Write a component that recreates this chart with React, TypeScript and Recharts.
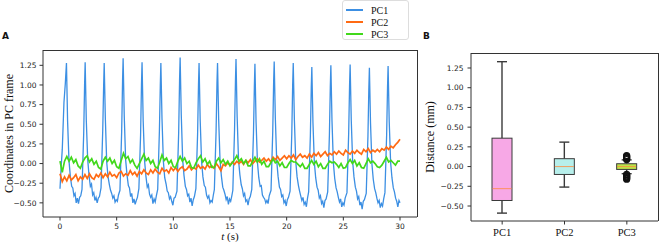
import React from "react"
import {
    LineChart,
    Line,
    BarChart,
    Bar,
    XAxis,
    YAxis,
} from "recharts"

// ---- panel A: time series of the three principal components ----

const SERIES_NAMES = ["PC1", "PC2", "PC3"]
const SERIES_COLORS = ["#3c8fe3", "#ff6a13", "#41d81b"]

// PC1 as [time (s), value] pairs, one cycle per line
const PC1_POINTS: [number, number][] = [
    [0, -0.32], [0.1, -0.05], [0.2, 0.18], [0.35, 0.78], [0.47, 1.02], [0.57, 1.28], [0.67, 0.54], [0.79, 0.04], [0.91, -0.16], [1.03, -0.29], [1.13, -0.31], [1.23, -0.41], [1.33, -0.38], [1.43, -0.5], [1.53, -0.44], [1.63, -0.51], [1.73, -0.43], [1.83, -0.41],
    [1.94, -0.33], [2.09, 0.38], [2.17, 1.0], [2.22, 1.29], [2.32, 0.55], [2.44, 0.06], [2.56, -0.15], [2.68, -0.29], [2.78, -0.26], [2.88, -0.4], [2.98, -0.37], [3.08, -0.47], [3.18, -0.43], [3.28, -0.5], [3.38, -0.44], [3.48, -0.42],
    [3.62, -0.31], [3.77, 0.42], [3.85, 0.98], [3.9, 1.28], [4.0, 0.58], [4.12, 0.02], [4.24, -0.17], [4.36, -0.27], [4.46, -0.34], [4.56, -0.38], [4.66, -0.44], [4.76, -0.41], [4.86, -0.49], [4.96, -0.46], [5.06, -0.48], [5.16, -0.4],
    [5.29, -0.34], [5.44, 0.4], [5.52, 1.05], [5.57, 1.34], [5.67, 0.6], [5.79, 0.05], [5.91, -0.14], [6.03, -0.28], [6.13, -0.31], [6.23, -0.42], [6.33, -0.38], [6.43, -0.5], [6.53, -0.45], [6.63, -0.52], [6.73, -0.47], [6.83, -0.43],
    [6.96, -0.32], [7.11, 0.36], [7.19, 1.01], [7.24, 1.29], [7.34, 0.54], [7.46, 0.04], [7.58, -0.16], [7.7, -0.3], [7.8, -0.27], [7.9, -0.39], [8.0, -0.43], [8.1, -0.4], [8.2, -0.51], [8.3, -0.45], [8.4, -0.49], [8.5, -0.41],
    [8.62, -0.33], [8.77, 0.41], [8.85, 0.99], [8.9, 1.28], [9.0, 0.57], [9.12, 0.03], [9.24, -0.18], [9.36, -0.26], [9.46, -0.35], [9.56, -0.37], [9.66, -0.45], [9.76, -0.42], [9.86, -0.48], [9.96, -0.53], [10.06, -0.44], [10.16, -0.43],
    [10.32, -0.35], [10.47, 0.39], [10.55, 1.06], [10.6, 1.35], [10.7, 0.62], [10.82, 0.06], [10.94, -0.15], [11.06, -0.29], [11.16, -0.33], [11.26, -0.41], [11.36, -0.39], [11.46, -0.49], [11.56, -0.44], [11.66, -0.54], [11.76, -0.46], [11.86, -0.42],
    [11.99, -0.32], [12.14, 0.37], [12.22, 1.0], [12.27, 1.28], [12.37, 0.55], [12.49, 0.03], [12.61, -0.17], [12.73, -0.28], [12.83, -0.3], [12.93, -0.4], [13.03, -0.44], [13.13, -0.41], [13.23, -0.5], [13.33, -0.47], [13.43, -0.49], [13.53, -0.4],
    [13.62, -0.33], [13.77, 0.4], [13.85, 1.02], [13.9, 1.28], [14.0, 0.56], [14.12, 0.04], [14.24, -0.16], [14.36, -0.3], [14.46, -0.34], [14.56, -0.39], [14.66, -0.46], [14.76, -0.42], [14.86, -0.52], [14.96, -0.45], [15.06, -0.48], [15.16, -0.41],
    [15.25, -0.34], [15.4, 0.42], [15.48, 1.04], [15.53, 1.33], [15.63, 0.6], [15.75, 0.05], [15.87, -0.14], [15.99, -0.27], [16.09, -0.32], [16.19, -0.41], [16.29, -0.38], [16.39, -0.48], [16.49, -0.46], [16.59, -0.53], [16.69, -0.45], [16.79, -0.42],
    [16.92, -0.33], [17.07, 0.38], [17.15, 0.98], [17.2, 1.27], [17.3, 0.53], [17.42, 0.02], [17.54, -0.18], [17.66, -0.29], [17.76, -0.28], [17.86, -0.4], [17.96, -0.43], [18.06, -0.45], [18.16, -0.5], [18.26, -0.47], [18.36, -0.51], [18.46, -0.41],
    [18.62, -0.34], [18.77, 0.4], [18.85, 1.03], [18.9, 1.3], [19.0, 0.58], [19.12, 0.04], [19.24, -0.16], [19.36, -0.3], [19.46, -0.33], [19.56, -0.42], [19.66, -0.4], [19.76, -0.5], [19.86, -0.47], [19.96, -0.54], [20.06, -0.46], [20.16, -0.43],
    [20.3, -0.35], [20.45, 0.37], [20.53, 1.0], [20.58, 1.28], [20.68, 0.56], [20.8, 0.03], [20.92, -0.17], [21.04, -0.28], [21.14, -0.35], [21.24, -0.41], [21.34, -0.47], [21.44, -0.43], [21.54, -0.52], [21.64, -0.49], [21.74, -0.55], [21.84, -0.44],
    [21.94, -0.36], [22.09, 0.35], [22.17, 0.96], [22.22, 1.23], [22.32, 0.52], [22.44, 0.02], [22.56, -0.18], [22.68, -0.3], [22.78, -0.34], [22.88, -0.44], [22.98, -0.41], [23.08, -0.51], [23.18, -0.48], [23.28, -0.56], [23.38, -0.47], [23.48, -0.45],
    [23.62, -0.36], [23.77, 0.36], [23.85, 0.97], [23.9, 1.25], [24.0, 0.54], [24.12, 0.01], [24.24, -0.19], [24.36, -0.31], [24.46, -0.36], [24.56, -0.43], [24.66, -0.49], [24.76, -0.45], [24.86, -0.55], [24.96, -0.5], [25.06, -0.53], [25.16, -0.44],
    [25.32, -0.37], [25.47, 0.38], [25.55, 0.99], [25.6, 1.26], [25.7, 0.55], [25.82, 0.03], [25.94, -0.17], [26.06, -0.3], [26.16, -0.35], [26.26, -0.45], [26.36, -0.42], [26.46, -0.53], [26.56, -0.49], [26.66, -0.58], [26.76, -0.48], [26.86, -0.46],
    [27.02, -0.38], [27.17, 0.34], [27.25, 0.95], [27.3, 1.22], [27.4, 0.51], [27.52, 0.0], [27.64, -0.2], [27.76, -0.32], [27.86, -0.37], [27.96, -0.44], [28.06, -0.5], [28.16, -0.47], [28.26, -0.56], [28.36, -0.51], [28.46, -0.54], [28.56, -0.45],
    [28.67, -0.37], [28.82, 0.36], [28.9, 0.97], [28.95, 1.24], [29.05, 0.53], [29.17, 0.02], [29.29, -0.18], [29.41, -0.31], [29.51, -0.36], [29.61, -0.44], [29.71, -0.48], [29.81, -0.55], [29.91, -0.47], [30.0, -0.5],
]

// PC2 and PC3 sampled every 0.2 s from 0 to 30 s (ten samples per row)
const SAMPLE_STEP = 0.2
const PC2_VALUES = [
    -0.13, -0.23, -0.17, -0.22, -0.15, -0.21, -0.18, -0.14, -0.22, -0.17,
    -0.2, -0.14, -0.19, -0.13, -0.18, -0.2, -0.14, -0.17, -0.12, -0.18,
    -0.13, -0.17, -0.11, -0.16, -0.14, -0.18, -0.12, -0.1, -0.16, -0.13,
    -0.15, -0.09, -0.14, -0.11, -0.16, -0.1, -0.13, -0.08, -0.12, -0.14,
    -0.08, -0.12, -0.07, -0.11, -0.13, -0.06, -0.1, -0.08, -0.12, -0.05,
    -0.09, -0.05, -0.1, -0.06, -0.04, -0.09, -0.07, -0.03, -0.08, -0.05,
    -0.07, -0.02, -0.06, -0.04, -0.07, -0.01, -0.05, -0.03, -0.06, 0.0,
    -0.04, -0.09, -0.01, -0.03, 0.01, -0.02, 0.02, -0.01, 0.03, 0.0,
    0.03, -0.01, 0.04, 0.01, 0.05, 0.0, 0.03, 0.06, 0.02, 0.04,
    0.07, 0.03, 0.06, 0.02, 0.08, 0.05, 0.09, 0.04, 0.07, 0.1,
    0.06, 0.1, 0.07, 0.11, 0.05, 0.09, 0.12, 0.08, 0.1, 0.07,
    0.12, 0.08, 0.13, 0.1, 0.14, 0.09, 0.12, 0.15, 0.1, 0.13,
    0.11, 0.15, 0.12, 0.16, 0.13, 0.11, 0.17, 0.14, 0.12, 0.16,
    0.13, 0.17, 0.14, 0.12, 0.18, 0.15, 0.19, 0.14, 0.17, 0.15,
    0.18, 0.15, 0.19, 0.17, 0.21, 0.18, 0.22, 0.2, 0.24, 0.27,
    0.31,
]
const PC3_VALUES = [
    0.03, -0.11, 0.03, 0.09, 0.03, 0.08, 0.01, 0.05, -0.03, -0.06,
    0.02, 0.07, 0.1, 0.02, 0.06, -0.01, 0.03, -0.05, -0.07, 0.03,
    0.08, 0.03, 0.07, 0.0, 0.04, -0.04, -0.06, 0.04, 0.13, 0.06,
    0.09, 0.01, 0.05, -0.02, -0.06, 0.0, 0.06, 0.12, 0.04, 0.07,
    0.0, 0.04, -0.04, -0.06, 0.02, 0.11, 0.04, 0.07, 0.0, 0.04,
    -0.04, -0.05, 0.03, 0.09, 0.03, 0.07, 0.0, 0.03, -0.05, -0.06,
    0.01, 0.06, 0.1, 0.02, 0.06, -0.01, 0.03, -0.05, -0.05, 0.03,
    0.07, 0.01, 0.05, -0.01, 0.03, -0.03, 0.01, 0.05, 0.1, 0.03,
    0.06, 0.0, 0.04, -0.03, -0.03, 0.03, 0.08, 0.02, 0.06, -0.01,
    0.03, -0.04, -0.04, 0.01, 0.06, 0.01, 0.03, -0.03, 0.01, -0.05,
    -0.05, 0.0, 0.04, 0.02, 0.02, -0.01, -0.04, 0.0, -0.06, -0.06,
    -0.01, 0.04, -0.01, 0.03, -0.04, 0.0, -0.06, -0.06, -0.01, 0.03,
    0.01, 0.02, -0.01, -0.05, 0.0, -0.06, -0.05, 0.01, 0.05, 0.0,
    0.04, -0.03, 0.01, -0.05, -0.06, 0.0, 0.06, 0.01, 0.03, 0.0,
    -0.04, -0.05, -0.02, 0.03, 0.08, 0.02, 0.04, 0.01, -0.02, 0.03,
    0.03,
]

const TIME_TICKS = [0, 5, 10, 15, 20, 25, 30]
const VALUE_TICKS = [-0.5, -0.25, 0, 0.25, 0.5, 0.75, 1, 1.25]
const TIME_DOMAIN = [-1.5, 31.5]
const VALUE_DOMAIN_A = [-0.68, 1.445]

// ---- panel B: box plot of the distances ----

const BOX_CATEGORIES = ["PC1", "PC2", "PC3"]
const WHISKER_LOW = [-0.59, -0.26, -0.09]
const Q1 = [-0.43, -0.1, -0.036]
const MEDIAN = [-0.28, 0.0, 0.0]
const Q3 = [0.36, 0.1, 0.036]
const WHISKER_HIGH = [1.33, 0.31, 0.085]
const FLIERS = [[], [], [0.09, 0.1, 0.11, 0.12, 0.13, 0.14, -0.1, -0.11, -0.12, -0.13, -0.14, -0.15, -0.16]]
const BOX_FILLS = ["#f7a8e6", "#b7efeb", "#bde34a"]
const VALUE_DOMAIN_B = [-0.69, 1.44]

const pc1Rows = PC1_POINTS.map(([t, v]) => ({ t, v }))
const pc2Rows = PC2_VALUES.map((v, i) => ({ t: +(i * SAMPLE_STEP).toFixed(2), v }))
const pc3Rows = PC3_VALUES.map((v, i) => ({ t: +(i * SAMPLE_STEP).toFixed(2), v }))
const seriesRows = [pc1Rows, pc2Rows, pc3Rows]

const boxRows = BOX_CATEGORIES.map((name, i) => ({
    name,
    lo: WHISKER_LOW[i],
    q1: Q1[i],
    med: MEDIAN[i],
    q3: Q3[i],
    hi: WHISKER_HIGH[i],
    fliers: FLIERS[i],
    fill: BOX_FILLS[i],
}))

const AXIS_COLOR = "#333"
const SANS = "DejaVu Sans"
const SERIF = "Liberation Serif"
const tickStyle = { fontSize: 7.5, fill: "#222", fontFamily: SANS }
const fmtValue = (v: number) => v.toFixed(2).replace("-", "\u2212")

function BoxShape(props: any) {
    const { x, y, width, height, payload } = props
    const top = Math.min(y, y + height)
    const h = Math.abs(height)
    const { lo, hi, q1, q3, med, fliers, fill } = payload
    const toY = (v: number) => top + ((hi - v) / (hi - lo)) * h
    const cx = x + width / 2
    const cap = width / 2
    return (
        <g>
            <line x1={cx} x2={cx} y1={toY(hi)} y2={toY(q3)} stroke="#3a3a3a" strokeWidth={1.4} />
            <line x1={cx} x2={cx} y1={toY(q1)} y2={toY(lo)} stroke="#3a3a3a" strokeWidth={1.4} />
            <line x1={cx - cap / 2} x2={cx + cap / 2} y1={toY(hi)} y2={toY(hi)} stroke="#3a3a3a" strokeWidth={1.4} />
            <line x1={cx - cap / 2} x2={cx + cap / 2} y1={toY(lo)} y2={toY(lo)} stroke="#3a3a3a" strokeWidth={1.4} />
            {fliers.map((f: number, i: number) => (
                <circle key={i} cx={cx} cy={toY(f)} r={3} fill="none" stroke="#111" strokeWidth={1.2} />
            ))}
            <rect x={x} y={toY(q3)} width={width} height={toY(q1) - toY(q3)} fill={fill} stroke="#3a3a3a" strokeWidth={1} />
            <line x1={x + 0.5} x2={x + width - 0.5} y1={toY(med)} y2={toY(med)} stroke="#ff8a3c" strokeWidth={0.8} />
        </g>
    )
}

function RotatedLabel({ viewBox, text, dx }: any) {
    const cx = viewBox.x + dx
    const cy = viewBox.y + viewBox.height / 2
    return (
        <text x={cx} y={cy} transform={`rotate(-90 ${cx} ${cy})`} textAnchor="middle" dominantBaseline="central"
            fontFamily={SERIF} fontSize={12} fill="#111">
            {text}
        </text>
    )
}

function TimeLabel({ viewBox }: any) {
    const cx = viewBox.x + viewBox.width / 2
    return (
        <text x={cx} y={240} textAnchor="middle" fontFamily={SERIF} fontSize={11} fill="#111">
            <tspan fontStyle="italic">t</tspan> (s)
        </text>
    )
}

// top and right edges of a plot frame (the axes draw the other two)
function FrameEdges({ left, top, width, height }: { left: number; top: number; width: number; height: number }) {
    return (
        <div style={{
            position: "absolute", left, top, width, height, boxSizing: "border-box",
            borderTop: `1px solid ${AXIS_COLOR}`, borderRight: `1px solid ${AXIS_COLOR}`, pointerEvents: "none",
        }} />
    )
}

export default function App() {
    return (
        <div style={{ position: "absolute", left: 0, top: 0, width: 660, height: 242, background: "#fff", fontFamily: SERIF }}>
            <div style={{ position: "absolute", left: 2, top: 31, fontFamily: SANS, fontWeight: "bold", fontSize: 9, color: "#111" }}>A</div>
            <div style={{ position: "absolute", left: 423, top: 31, fontFamily: SANS, fontWeight: "bold", fontSize: 9, color: "#111" }}>B</div>

            <div style={{ position: "absolute", left: 0, top: 0 }}>
                <LineChart width={420} height={242} margin={{ top: 50, right: 3, bottom: 0, left: 8 }}>
                    <XAxis
                        dataKey="t"
                        type="number"
                        domain={TIME_DOMAIN}
                        ticks={TIME_TICKS}
                        allowDataOverflow
                        height={25}
                        tickSize={3.5}
                        tickMargin={3}
                        tick={tickStyle}
                        stroke={AXIS_COLOR}
                        label={<TimeLabel />}
                    />
                    <YAxis
                        type="number"
                        domain={VALUE_DOMAIN_A}
                        ticks={VALUE_TICKS}
                        allowDataOverflow
                        width={35}
                        tickSize={3.5}
                        tickMargin={3}
                        tick={tickStyle}
                        tickFormatter={fmtValue}
                        stroke={AXIS_COLOR}
                        label={<RotatedLabel text="Coordinates in PC frame" dx={1} />}
                    />
                    {SERIES_NAMES.map((name, i) => (
                        <Line
                            key={name}
                            name={name}
                            data={seriesRows[i]}
                            dataKey="v"
                            type="linear"
                            stroke={SERIES_COLORS[i]}
                            strokeWidth={i === 0 ? 1.3 : 1.7}
                            dot={false}
                            isAnimationActive={false}
                        />
                    ))}
                </LineChart>
            </div>
            <FrameEdges left={43} top={50} width={375} height={167} />

            <div style={{ position: "absolute", left: 342, top: 0, width: 67, height: 40, border: "1px solid #ddd", borderRadius: 3, background: "rgba(255,255,255,0.9)", boxSizing: "border-box" }}>
                {SERIES_NAMES.map((name, i) => (
                    <div key={name} style={{ position: "absolute", left: 3, top: 3 + i * 12, height: 12, display: "flex", alignItems: "center" }}>
                        <div style={{ width: 17, height: 1.5, background: SERIES_COLORS[i] }} />
                        <span style={{ marginLeft: 8, fontFamily: SERIF, fontSize: 10, color: "#111" }}>{name}</span>
                    </div>
                ))}
            </div>

            <div style={{ position: "absolute", left: 420, top: 0 }}>
                <BarChart width={240} height={242} data={boxRows} margin={{ top: 53, right: 2, bottom: 0, left: 16 }}>
                    <XAxis
                        dataKey="name"
                        height={21}
                        tickSize={3.5}
                        tickMargin={4}
                        tick={{ fontSize: 10.5, fill: "#111", fontFamily: SERIF }}
                        stroke={AXIS_COLOR}
                    />
                    <YAxis
                        type="number"
                        domain={VALUE_DOMAIN_B}
                        ticks={VALUE_TICKS}
                        allowDataOverflow
                        width={35}
                        tickSize={3.5}
                        tickMargin={4}
                        tick={tickStyle}
                        tickFormatter={fmtValue}
                        stroke={AXIS_COLOR}
                        label={<RotatedLabel text="Distance (mm)" dx={-6} />}
                    />
                    <Bar
                        dataKey={(d: any) => [d.lo, d.hi]}
                        barSize={20}
                        shape={<BoxShape />}
                        isAnimationActive={false}
                    />
                </BarChart>
            </div>
            <FrameEdges left={471} top={53} width={188} height={168} />
        </div>
    )
}
